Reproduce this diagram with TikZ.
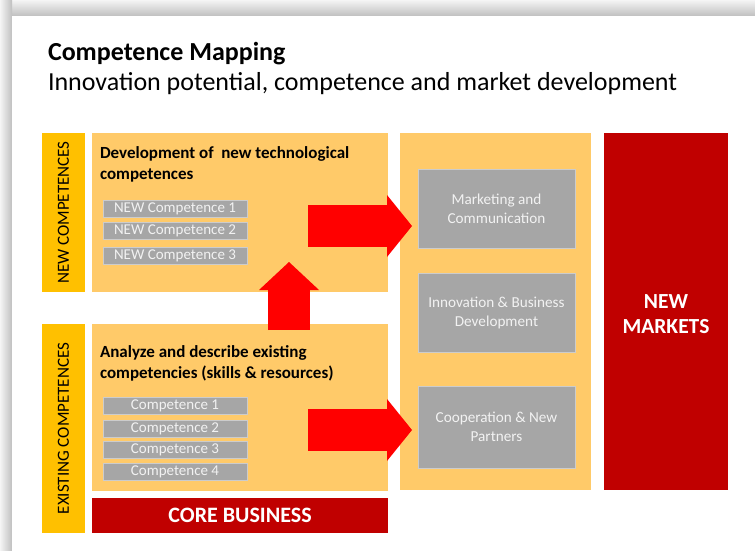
\documentclass[tikz,border=0pt]{standalone}
\usepackage{fontspec}
\setmainfont{Carlito}
\usetikzlibrary{arrows.meta,positioning}
\definecolor{panelorange}{HTML}{FFCA69}
\definecolor{baryellow}{HTML}{FFC000}
\definecolor{darkred}{HTML}{C00000}
\definecolor{arrowred}{HTML}{FF0000}
\definecolor{boxgray}{HTML}{A6A6A6}
\tikzset{every node/.append style={inner sep=0pt, outer sep=0pt}}
\tikzset{panel/.style={fill=panelorange, anchor=north west}}
\tikzset{sidebar/.style={fill=baryellow, anchor=north west, text=black!85}}
\tikzset{graybox/.style={fill=boxgray, draw=black!20, line width=0.6pt, text=white!95!black, align=center, font=\fontsize{15.2}{19}\selectfont}}
\tikzset{smallbox/.style={fill=boxgray, draw=black!20, line width=0.6pt, text=white!95!black, minimum width=144pt, minimum height=17pt, font=\fontsize{15}{16}\selectfont}}
\tikzset{boxtitle/.style={anchor=north west, align=left, font=\bfseries\fontsize{17}{21}\selectfont}}
\tikzset{bigarrow/.style={draw=arrowred, line width=42pt, -{Triangle[length=25pt,width=62pt,line width=0pt]}}}

\begin{document}
\begin{tikzpicture}[x=1pt, y=-1pt]
\useasboundingbox (0,0) rectangle (755,551);
% slide with shadow
\shade[top color=white!96!black, bottom color=black!25] (0,0) rectangle (755,16);
\shade[left color=white!96!black, right color=black!25] (0,0) rectangle (12,551);
\fill[white] (12,16) rectangle (755,551);

\node[anchor=base west, font=\bfseries\fontsize{26}{30}\selectfont] (title) at (48,60) {Competence Mapping};
\node[anchor=base west, font=\fontsize{26}{30}\selectfont] (subtitle) at (48,91) {Innovation potential, competence and market development};

% left side
\node[sidebar, minimum width=43pt, minimum height=159pt] (newbar) at (42,133) {};
\node[rotate=90, font=\fontsize{17}{19}\selectfont] at (newbar.center) {NEW COMPETENCES};
\node[panel, minimum width=296pt, minimum height=159pt] (newbox) at (92,133) {};
\node[boxtitle] (newtitle) at (100,147) {Development of \ new technological\\competences};
\node[smallbox] (nc1) at (175,208.5) {NEW Competence 1};
\node[smallbox] (nc2) at (175,230.5) {NEW Competence 2};
\node[smallbox] (nc3) at (175,255.5) {NEW Competence 3};

\node[sidebar, minimum width=43pt, minimum height=209pt] (existbar) at (42,324) {};
\node[rotate=90, font=\fontsize{17}{19}\selectfont] at (existbar.center) {EXISTING COMPETENCES};
\node[panel, minimum width=296pt, minimum height=167pt] (existbox) at (92,324) {};
\node[boxtitle] (existtitle) at (100,346) {Analyze and describe existing\\competencies (skills \& resources)};
\node[smallbox] (ec1) at (175,406) {Competence 1};
\node[smallbox] (ec2) at (175,428.5) {Competence 2};
\node[smallbox] (ec3) at (175,449.5) {Competence 3};
\node[smallbox] (ec4) at (175,471.5) {Competence 4};
\node[fill=darkred, anchor=north west, minimum width=296pt, minimum height=35pt, text=white,
  font=\bfseries\fontsize{22}{24}\selectfont] (core) at (92,498) {CORE BUSINESS};

% right side
\node[panel, minimum width=191pt, minimum height=357pt] (midcol) at (400,133) {};
\node[graybox, minimum width=157pt, minimum height=79pt] (mkt) at (496.5,208.5) {Marketing and\\Communication};
\node[graybox, minimum width=157pt, minimum height=79pt] (inno) at (496.5,312.5) {Innovation \& Business\\Development};
\node[graybox, minimum width=157pt, minimum height=82pt] (coop) at (496.5,427) {Cooperation \& New\\Partners};
\node[fill=darkred, anchor=north west, minimum width=124pt, minimum height=357pt, text=white, align=center,
  font=\bfseries\fontsize{21.5}{25}\selectfont] (markets) at (604,133) {};
\node[text=white, align=center, font=\bfseries\fontsize{21.5}{25}\selectfont] (marketstext)
  at ([yshift=-3pt]markets.center) {NEW\\MARKETS};

% arrows
\coordinate (upstart) at (289,330);
\coordinate (upend) at (289,262);
\coordinate (topstart) at (308,226);
\coordinate (topend) at (412,226);
\coordinate (botstart) at (308,430);
\coordinate (botend) at (412,430);
\draw[bigarrow, -{Triangle[length=28pt,width=60pt,line width=0pt]}] (upstart) -- (upend);
\draw[bigarrow] (topstart) -- (topend);
\draw[bigarrow] (botstart) -- (botend);
\end{tikzpicture}
\end{document}
